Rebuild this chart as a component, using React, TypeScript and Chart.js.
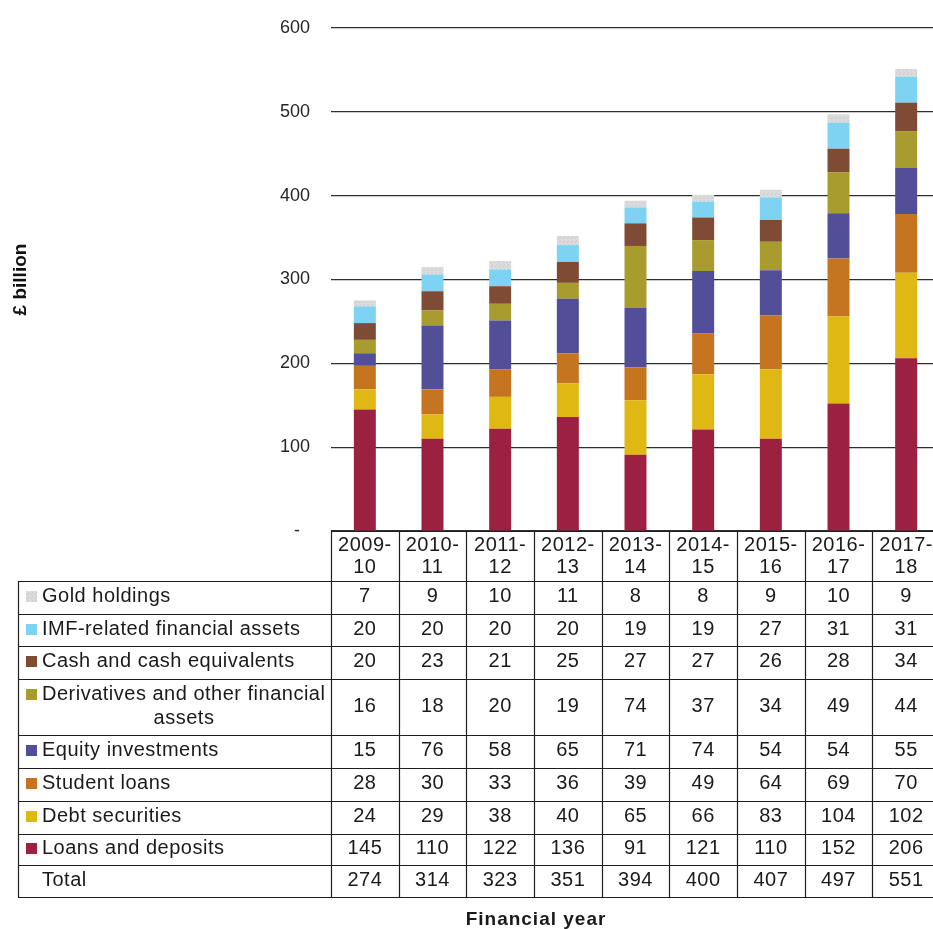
import { useEffect, useRef } from 'react';
import { Chart, registerables } from 'chart.js';

Chart.register(...registerables);

const categories = ['2009-10', '2010-11', '2011-12', '2012-13', '2013-14', '2014-15', '2015-16', '2016-17', '2017-18'];

const loansAndDeposits = [145, 110, 122, 136, 91, 121, 110, 152, 206];
const debtSecurities = [24, 29, 38, 40, 65, 66, 83, 104, 102];
const studentLoans = [28, 30, 33, 36, 39, 49, 64, 69, 70];
const equityInvestments = [15, 76, 58, 65, 71, 74, 54, 54, 55];
const derivativesOther = [16, 18, 20, 19, 74, 37, 34, 49, 44];
const cashEquivalents = [20, 23, 21, 25, 27, 27, 26, 28, 34];
const imfAssets = [20, 20, 20, 20, 19, 19, 27, 31, 31];
const goldHoldings = [7, 9, 10, 11, 8, 8, 9, 10, 9];
const totals = [274, 314, 323, 351, 394, 400, 407, 497, 551];

const seriesNames = [
  'Loans and deposits',
  'Debt securities',
  'Student loans',
  'Equity investments',
  'Derivatives and other financial assets',
  'Cash and cash equivalents',
  'IMF-related financial assets',
  'Gold holdings',
];
const seriesValues = [
  loansAndDeposits,
  debtSecurities,
  studentLoans,
  equityInvestments,
  derivativesOther,
  cashEquivalents,
  imfAssets,
  goldHoldings,
];
const seriesColors = ['#9C2140', '#DFB814', '#C5741F', '#524F98', '#A89C2E', '#7F4B34', '#7FD3F2', 'pattern'];
const totalLabel = 'Total';

const yMin = 0;
const yMax = 600;
const yStep = 100;

const FONT = "'Liberation Sans', Arial, sans-serif";

function makeGoldPattern(): CanvasPattern | string {
  const c = document.createElement('canvas');
  c.width = 4;
  c.height = 4;
  const g = c.getContext('2d');
  if (!g) return '#D9D9D9';
  g.fillStyle = '#D9D9D9';
  g.fillRect(0, 0, 4, 4);
  g.fillStyle = '#CDCDCD';
  g.fillRect(0, 0, 1, 1);
  g.fillRect(2, 2, 1, 1);
  g.fillStyle = '#E5E5E5';
  g.fillRect(2, 0, 1, 1);
  g.fillRect(1, 3, 1, 1);
  g.fillStyle = '#D2D2D2';
  g.fillRect(3, 1, 1, 1);
  const p = g.createPattern(c, 'repeat');
  return p || '#D9D9D9';
}

export default function App() {
  const ref = useRef<HTMLCanvasElement | null>(null);

  useEffect(() => {
    const canvas = ref.current;
    if (!canvas) return;
    const gold = makeGoldPattern();
    const colors = seriesColors.map((c) => (c === 'pattern' ? gold : c));

    const tablePlugin = {
      id: 'dataTable',
      afterDraw(chart: any) {
        const ctx: CanvasRenderingContext2D = chart.ctx;
        const area = chart.chartArea;
        const xs = chart.scales.x;
        const n = categories.length;
        const colW = xs.getPixelForValue(1) - xs.getPixelForValue(0);
        const firstLeft = xs.getPixelForValue(0) - colW / 2;
        const rightEdge = firstLeft + n * colW;
        const tableLeft = 18;
        const top = area.bottom;
        const rowHeights = [50, 33, 32, 33, 56, 33, 33, 33, 31, 32];
        const ys = [top];
        rowHeights.forEach((h) => ys.push(ys[ys.length - 1] + h));
        const bottom = ys[ys.length - 1];
        const px = (v: number) => Math.round(v) + 0.5;

        ctx.save();
        ctx.strokeStyle = '#1e1e1e';
        ctx.lineWidth = 1.2;
        ctx.beginPath();
        ctx.moveTo(firstLeft, px(top));
        ctx.lineTo(rightEdge, px(top));
        for (let i = 1; i < ys.length; i++) {
          ctx.moveTo(tableLeft, px(ys[i]));
          ctx.lineTo(rightEdge, px(ys[i]));
        }
        ctx.moveTo(px(tableLeft), px(ys[1]));
        ctx.lineTo(px(tableLeft), px(bottom));
        for (let k = 0; k <= n; k++) {
          const x = px(firstLeft + k * colW);
          ctx.moveTo(x, px(top));
          ctx.lineTo(x, px(bottom));
        }
        ctx.stroke();

        ctx.fillStyle = '#1a1a1a';
        ctx.font = `20px ${FONT}`;
        (ctx as any).letterSpacing = '0.5px';
        ctx.textBaseline = 'middle';

        // header
        ctx.textAlign = 'center';
        const hc = (ys[0] + ys[1]) / 2;
        categories.forEach((cat, i) => {
          const cx = xs.getPixelForValue(i);
          const parts = cat.split('-');
          ctx.fillText(parts[0] + '-', cx, hc - 11);
          ctx.fillText(parts[1], cx, hc + 11);
        });

        // rows
        const rows: { name: string; values: number[]; color: any }[] = [];
        for (let s = seriesNames.length - 1; s >= 0; s--) {
          rows.push({ name: seriesNames[s], values: seriesValues[s], color: colors[s] });
        }
        rows.push({ name: totalLabel, values: totals, color: null });

        const textX = 42;
        const maxW = 292;
        rows.forEach((row, r) => {
          const y0 = ys[r + 1];
          const y1 = ys[r + 2];
          const cy = (y0 + y1) / 2 - 1;
          const words = row.name.split(' ');
          const lines: string[] = [];
          let cur = '';
          ctx.textAlign = 'left';
          words.forEach((w) => {
            const test = cur ? cur + ' ' + w : w;
            if (ctx.measureText(test).width > maxW && cur) {
              lines.push(cur);
              cur = w;
            } else {
              cur = test;
            }
          });
          lines.push(cur);
          const lh = 24;
          const startY = cy - ((lines.length - 1) * lh) / 2;
          lines.forEach((ln, li) => {
            if (li === 0) {
              ctx.textAlign = 'left';
              ctx.fillText(ln, textX, startY);
            } else {
              ctx.textAlign = 'center';
              ctx.fillText(ln, 184, startY + li * lh);
            }
          });
          if (row.color) {
            ctx.fillStyle = row.color;
            ctx.fillRect(26, Math.round(startY - 5.5), 11, 11);
            ctx.fillStyle = '#1a1a1a';
          }
          ctx.textAlign = 'center';
          row.values.forEach((v, i) => {
            ctx.fillText(String(v), xs.getPixelForValue(i), cy);
          });
        });

        // x title
        ctx.font = `bold 19px ${FONT}`;
        (ctx as any).letterSpacing = '1px';
        ctx.textAlign = 'center';
        ctx.textBaseline = 'alphabetic';
        ctx.fillText('Financial year', 536, 925);
        ctx.restore();
      },
    };

    const chart = new Chart(canvas, {
      type: 'bar',
      data: {
        labels: categories,
        datasets: seriesNames.map((name, i) => ({
          label: name,
          data: seriesValues[i],
          backgroundColor: colors[i] as any,
          borderWidth: 0,
          barPercentage: 0.325,
          categoryPercentage: 1,
        })),
      },
      options: {
        responsive: false,
        animation: false,
        devicePixelRatio: 1,
        layout: { padding: { top: 28, bottom: 398, left: 0, right: 0 } },
        plugins: { legend: { display: false }, tooltip: { enabled: false } },
        scales: {
          x: {
            stacked: true,
            display: false,
          },
          y: {
            stacked: true,
            min: yMin,
            max: yMax,
            afterFit: (scale: any) => {
              scale.width = 331;
              scale.paddingTop = 0;
              scale.paddingBottom = 0;
            },
            border: { display: false },
            grid: { color: '#2e2e2e', lineWidth: 1.2, drawTicks: false },
            ticks: {
              stepSize: yStep,
              padding: 21,
              color: '#262626',
              font: { family: FONT, size: 18 },
              callback: (v: any) => (Number(v) === 0 ? '-  ' : String(v)),
            },
            title: {
              display: true,
              text: '£ billion',
              color: '#111',
              font: { family: FONT, size: 19, weight: 'bold' },
              padding: { top: 9, bottom: 0 },
            },
          },
        },
      },
      plugins: [tablePlugin],
    });
    return () => chart.destroy();
  }, []);

  return (
    <div style={{ position: 'absolute', left: 0, top: 0, width: 933, height: 929, overflow: 'hidden', background: '#fff' }}>
      <canvas ref={ref} width={940} height={929} style={{ display: 'block' }} />
    </div>
  );
}
